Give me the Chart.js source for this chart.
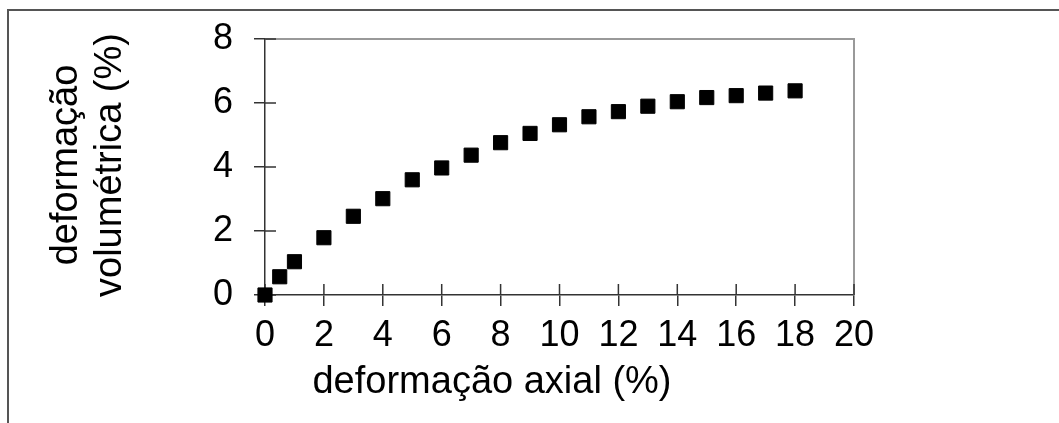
<!DOCTYPE html>
<html>

<head>
    <title>
        Chart
    </title>
    <style>
        body { margin: 0; background: #fff; }
        #wrap { position: relative; width: 1059px; height: 423px; }
        #frame { position: absolute; left: 7px; top: 9px; right: 0; bottom: 0; border-left: 2px solid #555; border-top: 2px solid #555; }
        canvas { position: absolute; left: 0; top: 0; }
    </style>
</head>

<body>
    <div id="wrap">
        <div id="frame"></div>
        <canvas id="myChart" width="1059" height="423"></canvas>
    </div>
    <script src="https://cdn.jsdelivr.net/npm/chart.js@4/dist/chart.umd.min.js"></script>
    <script>
    // deformação axial (%) vs deformação volumétrica (%)
    var axialStrain = [0, 0.5, 1, 2, 3, 4, 5, 6, 7, 8, 9, 10, 11, 12, 13, 14, 15, 16, 17, 18];
    var volStrain = [0, 0.57, 1.04, 1.79, 2.46, 3.01, 3.60, 3.97, 4.37, 4.76, 5.05, 5.32, 5.57, 5.73, 5.90, 6.04, 6.17, 6.23, 6.31, 6.38];
    var xTitle = 'deformação axial (%)';
    var yTitle = ['deformação', 'volumétrica (%)'];

    var fontFam = "'Liberation Sans', Arial, sans-serif";

    var points = [];
    for (var i = 0; i < axialStrain.length; i++) {
        points.push({ x: axialStrain[i], y: volStrain[i] });
    }

    // draws the crossing tick marks, the grey frame and the axis titles
    var extras = {
        id: 'extras',
        beforeDatasetsDraw: function(chart) {
            var c = chart.ctx, a = chart.chartArea;
            var xs = chart.scales.x, ys = chart.scales.y;
            c.save();
            c.strokeStyle = '#999';
            c.lineWidth = 2;
            c.beginPath();
            c.moveTo(a.left, a.top);
            c.lineTo(a.right, a.top);
            c.lineTo(a.right, a.bottom);
            c.stroke();
            c.strokeStyle = '#333';
            c.lineWidth = 1.5;
            c.beginPath();
            xs.ticks.forEach(function(t) {
                var px = xs.getPixelForValue(t.value);
                c.moveTo(px, a.bottom);
                c.lineTo(px, a.bottom - 11);
            });
            ys.ticks.forEach(function(t) {
                var py = ys.getPixelForValue(t.value);
                c.moveTo(a.left, py);
                c.lineTo(a.left + 11, py);
            });
            c.stroke();
            c.restore();
        },
        afterDraw: function(chart) {
            var c = chart.ctx, a = chart.chartArea;
            c.save();
            c.fillStyle = '#000';
            c.textAlign = 'center';
            c.textBaseline = 'middle';
            c.font = '38px ' + fontFam;
            c.fillText(xTitle, a.left + 227, 383);
            c.translate(89, a.top + 126);
            c.rotate(-Math.PI / 2);
            c.fillText(yTitle[0], 0, -22);
            c.fillText(yTitle[1], 0, 22);
            c.restore();
        }
    };

    var ctx = document.getElementById('myChart').getContext('2d');
    var chart = new Chart(ctx, {
        type: 'scatter',
        data: {
            datasets: [{
                data: points,
                pointStyle: 'rect',
                pointRadius: 10,
                pointHoverRadius: 10,
                backgroundColor: '#000',
                borderColor: '#000',
                borderWidth: 1,
                clip: false
            }]
        },
        options: {
            responsive: false,
            animation: false,
            events: [],
            layout: { padding: { left: 0, top: 39, right: 205, bottom: 0 } },
            plugins: {
                legend: { display: false },
                tooltip: { enabled: false }
            },
            scales: {
                x: {
                    type: 'linear',
                    min: 0,
                    max: 20,
                    afterFit: function(s) { s.height = 128; s.paddingLeft = 0; s.paddingRight = 0; },
                    ticks: { stepSize: 2, color: '#000', padding: 8, font: { family: fontFam, size: 36 } },
                    grid: { drawOnChartArea: false, tickLength: 11, color: '#333', lineWidth: 1.5 },
                    border: { color: '#333', width: 1.5 }
                },
                y: {
                    min: 0,
                    max: 8,
                    afterFit: function(s) { s.width = 265; s.paddingTop = 0; s.paddingBottom = 0; },
                    ticks: { stepSize: 2, color: '#000', padding: 21, font: { family: fontFam, size: 36 } },
                    grid: { drawOnChartArea: false, tickLength: 11, color: '#333', lineWidth: 1.5 },
                    border: { color: '#333', width: 1.5 }
                }
            }
        },
        plugins: [extras]
    });
    </script>
</body>

</html>
